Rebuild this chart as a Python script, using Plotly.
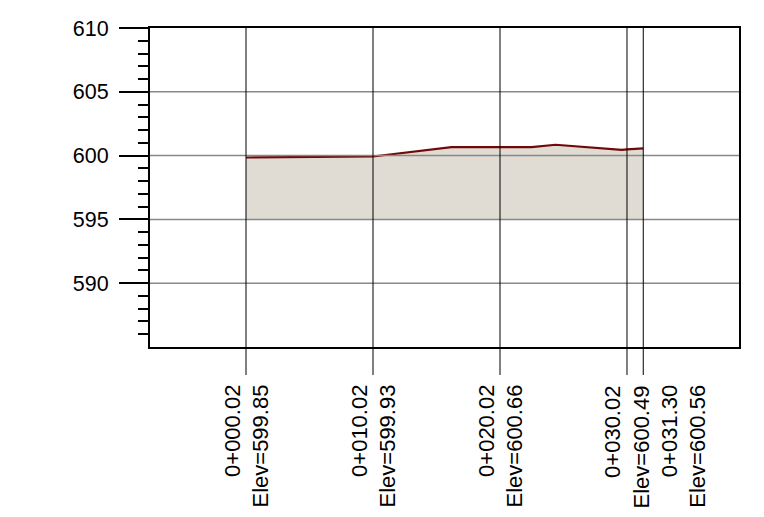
import plotly.graph_objects as go

# ---- data ----
stations = [0.02, 10.02, 20.02, 30.02, 31.30]
station_elevs = [599.85, 599.93, 600.66, 600.49, 600.56]
label_shift_px = [0, 0, 0, 0, 40]

profile_x = [0.02, 10.02, 16.2, 22.5, 24.4, 29.6, 30.02, 31.30]
profile_y = [599.85, 599.93, 600.66, 600.66, 600.85, 600.45, 600.49, 600.56]

datum = 595
y_major = [590, 595, 600, 605, 610]
y_major_text = ["590", "595", "600", "605", "610"]
y_minor = [586, 587, 588, 589, 591, 592, 593, 594, 596, 597, 598, 599,
           601, 602, 603, 604, 606, 607, 608, 609]
grid_vals = [590, 595, 600, 605]

x_range = [-7.54, 38.84]
y_range = [585, 610]

FONT = "Liberation Sans, Arial, sans-serif"
W, H = 764, 517
ML, MR, MT, MB = 150, 25, 28, 170
plot_h = H - MT - MB

fig = go.Figure()
fig.add_trace(go.Scatter(x=profile_x, y=[datum] * len(profile_x), mode="lines",
                         line=dict(width=0), hoverinfo="skip", showlegend=False))
fig.add_trace(go.Scatter(x=profile_x, y=profile_y, mode="lines", fill="tonexty",
                         fillcolor="#e0dcd4", line=dict(color="#730808", width=2.2),
                         showlegend=False))

shapes = []
for g in grid_vals:
    shapes.append(dict(type="line", xref="paper", yref="y", x0=0, x1=1, y0=g, y1=g,
                       line=dict(color="#888888", width=1.5), layer="above"))
for s in stations:
    shapes.append(dict(type="line", xref="x", yref="paper", x0=s, x1=s,
                       y0=-28 / plot_h, y1=1, line=dict(color="#000000", width=1),
                       layer="above"))

annotations = []
for s, e, sh in zip(stations, station_elevs, label_shift_px):
    annotations.append(dict(x=s, y=-36 / plot_h, xref="x", yref="paper",
                            text=f"0+{s:06.2f}<br>Elev={e:.2f}", textangle=-90,
                            showarrow=False, xanchor="center", yanchor="top",
                            align="right", xshift=sh,
                            font=dict(family=FONT, size=22, color="black")))

fig.update_layout(
    width=W, height=H,
    margin=dict(l=ML, r=MR, t=MT, b=MB),
    paper_bgcolor="white", plot_bgcolor="white",
    font=dict(family=FONT, size=21.5, color="black"),
    shapes=shapes, annotations=annotations, showlegend=False,
    xaxis=dict(range=x_range, showgrid=False, zeroline=False, showticklabels=False,
               ticks="", showline=True, linecolor="black", linewidth=2, mirror=True),
    yaxis=dict(range=y_range, showgrid=False, zeroline=False,
               tickmode="array", tickvals=y_major, ticktext=y_major_text,
               ticks="outside", ticklen=29, tickwidth=2, tickcolor="black",
               ticklabelstandoff=6,
               showline=True, linecolor="black", linewidth=2, mirror=True,
               minor=dict(tickvals=y_minor, ticks="outside", ticklen=10,
                          tickwidth=1.5, tickcolor="black")),
)

fig.write_html("out.html", config={"displayModeBar": False},
               post_script="document.body.style.margin='0px';")
